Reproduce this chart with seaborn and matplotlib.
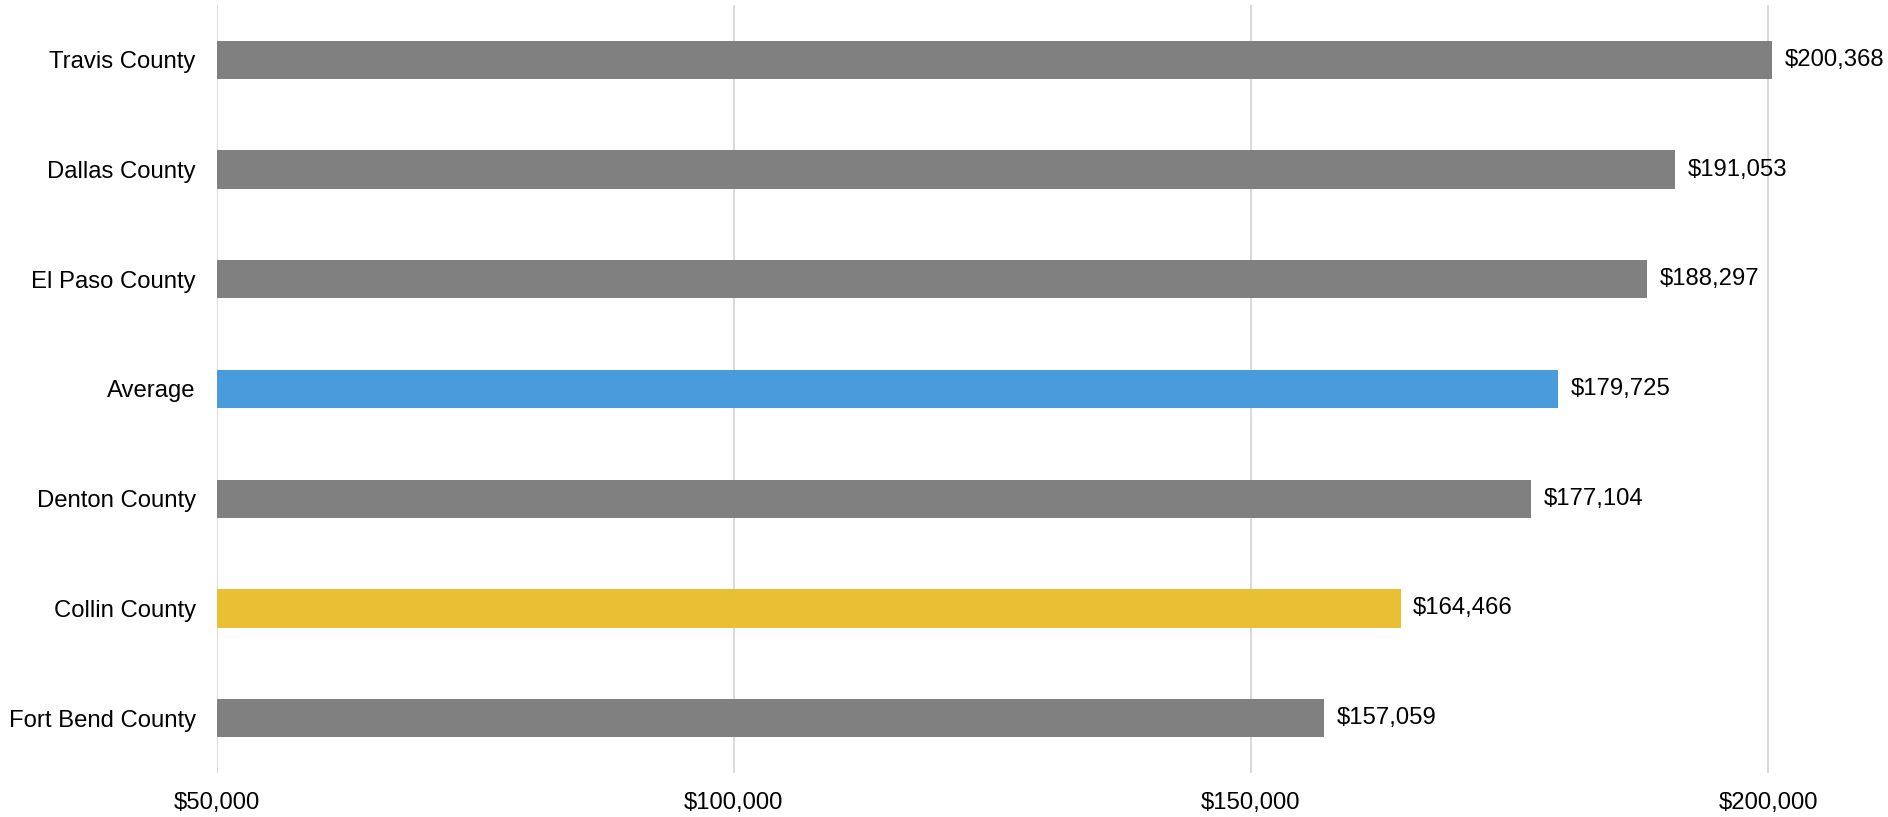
import matplotlib
matplotlib.use("Agg")
import matplotlib.pyplot as plt
import seaborn as sns
import pandas as pd
from matplotlib.ticker import FuncFormatter

counties = ["Travis County", "Dallas County", "El Paso County", "Average",
            "Denton County", "Collin County", "Fort Bend County"]
values = [200368, 191053, 188297, 179725, 177104, 164466, 157059]
bar_colors = ["#808080", "#808080", "#808080", "#4A9BDB",
              "#808080", "#E9BF34", "#808080"]
x_ticks = [50000, 100000, 150000, 200000]

df = pd.DataFrame({"county": counties, "value": values})

sns.set_theme(style="white")
plt.rcParams["font.family"] = ["Liberation Sans", "DejaVu Sans"]
FS = 17.2

fig = plt.figure(figsize=(18.88, 8.17), dpi=100)
ax = fig.add_axes([216.7 / 1888, 1 - 773 / 817, 1 - 216.7 / 1888, (773 - 5) / 817])

sns.barplot(data=df, x="value", y="county", hue="county",
            palette=dict(zip(counties, bar_colors)), width=0.35,
            legend=False, ax=ax, saturation=1, edgecolor="none")

ax.set_xlim(50000, 211600)
ax.set_xticks(x_ticks)
ax.xaxis.set_major_formatter(FuncFormatter(lambda v, _: f"${v:,.0f}"))
ax.grid(axis="x", color="#D9D9D9", linewidth=1.4)
ax.grid(axis="y", visible=False)
ax.set_axisbelow(True)
for s in ax.spines.values():
    s.set_visible(False)
ax.set_xlabel("")
ax.set_ylabel("")
ax.tick_params(axis="x", length=0, pad=14, labelsize=FS, labelcolor="#000000")
ax.tick_params(axis="y", length=0, pad=15, labelsize=FS, labelcolor="#000000")

for cont in ax.containers:
    ax.bar_label(cont, labels=[f"${b.get_width():,.0f}" for b in cont],
                 padding=9, fontsize=FS, color="#000000")

fig.savefig("out.png", dpi=100)
